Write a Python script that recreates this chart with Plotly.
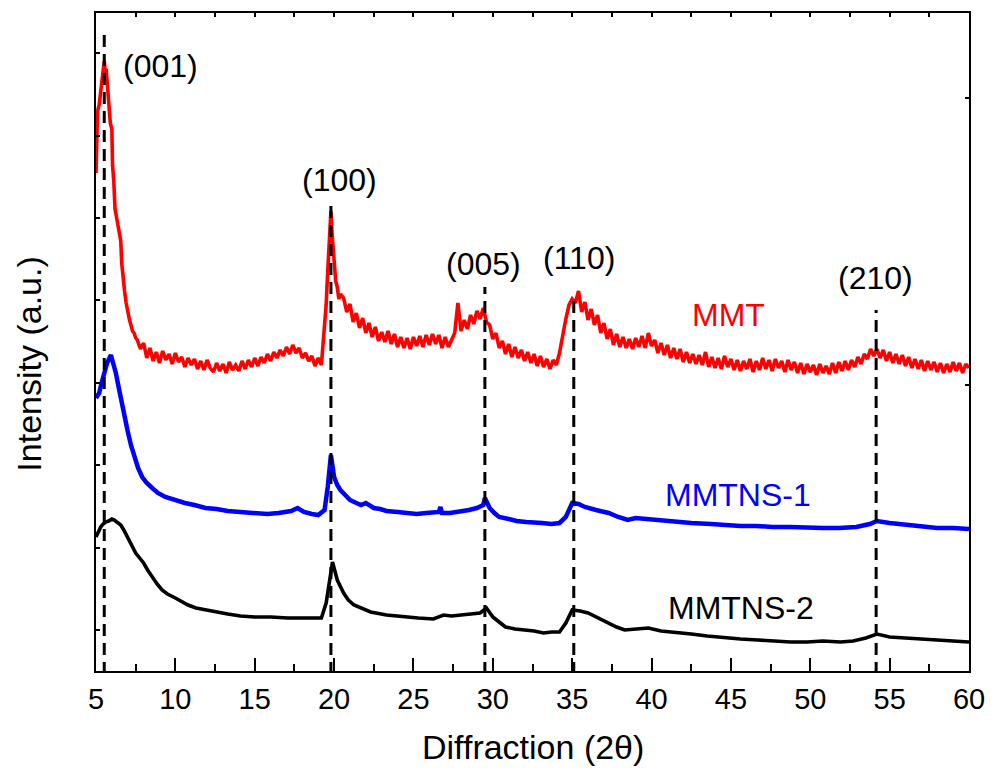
import numpy as np
import plotly.graph_objects as go

# ---------------- data (intensity in a.u.) ----------------
# MMT (red) – fine sampling around the (001) peak
mmt_x_a = [5.00, 5.04, 5.10, 5.20, 5.28, 5.37, 5.45, 5.52, 5.58, 5.64, 5.70, 5.76, 5.83,
           5.90, 6.00, 6.04, 6.12, 6.20, 6.28, 6.36, 6.45, 6.56, 6.62, 6.70, 6.80, 6.90,
           7.00, 7.10, 7.20, 7.30, 7.40, 7.50]
mmt_y_a = [498, 551, 560, 566, 578, 594, 604, 610, 600, 602, 590, 578, 554,
           548, 542, 506, 490, 462, 455, 447, 438, 430, 408, 392, 380, 368,
           358, 352, 346, 340, 338, 333]
# MMT, 0.2-step readings from 7.6 to 19.2
mmt_start_b = 7.6
mmt_y_b = [331, 322, 328, 313, 323, 310, 319, 308, 320, 311,
           317, 307, 318, 309, 314, 304, 313, 306, 312, 302,
           310, 301, 311, 303, 299, 308, 300, 307, 298, 309,
           301, 306, 300, 310, 302, 311, 304, 313, 305, 314,
           308, 317, 310, 319, 313, 321, 315, 324, 317, 326,
           318, 323, 313, 318, 310, 315, 305, 313, 306]
# MMT, fine sampling around the (100) peak
mmt_x_c = [19.30, 19.40, 19.50, 19.60, 19.70, 19.76, 19.80, 19.86, 19.92, 20.00,
           20.10, 20.20, 20.30, 20.40]
mmt_y_c = [326, 345, 366, 400, 432, 455, 460, 440, 428, 405,
           390, 384, 372, 377]
# MMT, 0.2-step readings from 20.6 to 60.0
mmt_start_d = 20.6
mmt_y_d = [373, 359, 367, 349, 358, 343, 353, 338, 348, 334,
           344, 330, 339, 329, 340, 327, 337, 324, 334, 323,
           333, 322, 334, 325, 335, 324, 336, 326, 337, 327,
           336, 323, 334, 324, 332, 338, 368, 340, 351, 342,
           356, 347, 360, 352, 363, 349, 346, 332, 338, 323,
           330, 317, 327, 314, 324, 313, 321, 310, 319, 308,
           317, 305, 315, 304, 312, 302, 311, 306, 318, 336,
           352, 366, 372, 368, 380, 359, 369, 351, 362, 346,
           356, 338, 348, 332, 342, 326, 337, 324, 334, 323,
           332, 322, 333, 324, 335, 323, 338, 325, 331, 318,
           328, 316, 326, 313, 323, 312, 322, 309, 319, 308,
           317, 307, 316, 306, 319, 304, 314, 303, 313, 302,
           315, 304, 312, 301, 311, 300, 310, 302, 312, 299,
           310, 301, 313, 302, 311, 300, 312, 303, 310, 299,
           311, 301, 309, 298, 308, 297, 307, 299, 306, 296,
           307, 298, 305, 297, 308, 298, 309, 300, 310, 301,
           311, 304, 314, 307, 317, 312, 322, 315, 322, 313,
           321, 310, 319, 308, 317, 307, 316, 305, 314, 303,
           312, 302, 311, 300, 310, 301, 309, 299, 308, 298,
           307, 299, 309, 300, 308, 298, 307, 303]
mmt_step = 0.2

# MMTNS-1 (blue)
ns1_x = [5.0, 5.2, 5.35, 5.52, 5.7, 5.94, 6.1, 6.25, 6.45, 6.66, 6.98, 7.2, 7.4, 7.65,
         7.91, 8.2, 8.54, 8.9, 9.37, 9.9, 10.6, 11.2, 11.9, 12.6, 13.3, 14.1, 15.0, 15.8,
         16.5, 17.3, 17.7, 18.1, 18.6, 19.0, 19.4, 19.6, 19.8, 20.0, 20.2, 20.4, 20.7,
         21.0, 21.4, 21.7, 22.0, 22.5, 22.9, 23.3, 24.0, 24.6, 25.2, 25.8, 26.6, 26.7,
         26.8, 27.3, 27.9, 28.5, 29.0, 29.4, 29.5, 29.8, 30.1, 30.4, 31.0, 31.5, 32.1,
         32.6, 33.1, 33.7, 34.2, 34.6, 35.0, 35.4, 35.8, 36.5, 37.3, 37.9, 38.5, 39.0,
         39.6, 40.5, 41.45, 42.5, 43.75, 44.6, 45.6, 46.6, 47.6, 48.75, 49.8, 50.8, 51.8,
         52.9, 53.75, 54.2, 55.0, 56.0, 57.1, 58.0, 59.0, 60.0]
ns1_y = [273, 278, 288, 298, 308, 316, 308, 298, 282, 264, 241, 226, 214, 203,
         194, 188, 183, 178, 174, 171, 168, 166, 163, 162, 160, 159, 158, 157,
         158, 160, 163, 159, 157, 156, 161, 184, 216, 194, 186, 181, 176,
         171, 168, 166, 168, 163, 162, 160, 159, 158, 157, 158, 159, 164,
         158, 158, 159, 161, 163, 166, 173, 163, 158, 154, 152, 150, 149,
         149, 148, 147, 148, 154, 168, 167, 164, 161, 158, 154, 151, 153,
         152, 151, 149, 148, 147, 146, 145, 145, 144, 144, 143, 143, 143,
         144, 147, 150, 148, 146, 144, 143, 143, 142]

# MMTNS-2 (black)
ns2_x = [5.0, 5.15, 5.3, 5.45, 5.6, 5.8, 6.0, 6.15, 6.35, 6.56, 6.75, 6.98, 7.2, 7.5,
         7.75, 8.0, 8.25, 8.54, 8.85, 9.16, 9.5, 10.0, 10.4, 10.8, 11.3, 11.9, 12.5,
         13.3, 14.1, 15.0, 16.0, 17.1, 18.2, 19.2, 19.5, 19.7, 19.9, 20.05, 20.2, 20.6,
         20.9, 21.25, 21.8, 22.3, 23.3, 24.4, 25.3, 26.25, 26.9, 27.4, 27.9, 28.6, 29.2,
         29.6, 30.0, 30.4, 30.8, 31.4, 32.1, 32.6, 33.2, 33.7, 34.2, 34.6, 35.0, 35.5,
         36.0, 36.6, 37.3, 37.8, 38.3, 39.0, 39.8, 40.6, 41.45, 42.5, 43.5, 44.6, 45.6,
         46.7, 47.7, 48.75, 49.8, 50.8, 51.9, 52.7, 53.5, 54.2, 55.0, 56.0, 57.1, 58.0,
         59.0, 60.0]
ns2_y = [134, 140, 144, 147, 149, 150, 152, 151, 149, 146, 141, 134, 127, 118,
         113, 108, 101, 94, 87, 81, 77, 73, 69, 66, 63, 61, 59,
         57, 55, 54, 54, 53, 53, 53, 68, 90, 109, 100, 91, 78,
         71, 66, 62, 59, 56, 54, 53, 52, 56, 55, 56, 57, 58,
         63, 54, 49, 44, 42, 41, 40, 38, 39, 39, 48, 61, 60,
         58, 53, 48, 44, 41, 42, 43, 40, 39, 37, 35, 33, 32,
         31, 30, 29, 29, 30, 29, 30, 33, 37, 34, 33, 32, 31,
         30, 29]

series_names = ["MMT", "MMTNS-1", "MMTNS-2"]
series_colors = ["#FF0000", "#0000FF", "#000000"]

# reflection markers: position (2θ), label and top of the dashed guide
peak_pos = [5.52, 19.8, 29.5, 35.1, 54.15]
peak_top = [638, 469, 384, 371, 361]
peak_labels = ["(001)", "(100)", "(005)", "(110)", "(210)"]
peak_label_x = [9.05, 20.31, 29.44, 35.43, 54.11]
peak_label_y = [605, 491, 407, 413, 393]

series_label_x = [44.82, 45.47, 45.66]
series_label_y = [356, 176, 63]

x_ticks = [5, 10, 15, 20, 25, 30, 35, 40, 45, 50, 55, 60]
y_tickvals = [41, 123.4, 205.8, 288.2, 370.6, 453, 535.4, 617.8]
y2_tickvals = [286, 573]

# ---------------- build ----------------
mmt_x = (list(mmt_x_a)
         + [round(mmt_start_b + mmt_step * i, 2) for i in range(len(mmt_y_b))]
         + list(mmt_x_c)
         + [round(mmt_start_d + mmt_step * i, 2) for i in range(len(mmt_y_d))])
mmt_y = list(mmt_y_a) + list(mmt_y_b) + list(mmt_y_c) + list(mmt_y_d)

FONT = "Arial, 'Liberation Sans', Helvetica, sans-serif"

fig = go.Figure()
fig.add_trace(go.Scatter(x=mmt_x, y=mmt_y, mode="lines", name=series_names[0],
                         line=dict(color=series_colors[0], width=3.6)))
fig.add_trace(go.Scatter(x=ns1_x, y=ns1_y, mode="lines", name=series_names[1],
                         line=dict(color=series_colors[1], width=4.5)))
fig.add_trace(go.Scatter(x=ns2_x, y=ns2_y, mode="lines", name=series_names[2],
                         line=dict(color=series_colors[2], width=3.6)))
# dummy trace to activate mirror axes
fig.add_trace(go.Scatter(x=[x_ticks[0], x_ticks[-1]], y=[0, 0], xaxis="x2", yaxis="y2",
                         mode="lines", line=dict(width=0), hoverinfo="skip",
                         showlegend=False))

for xp, yt in zip(peak_pos, peak_top):
    fig.add_shape(type="line", xref="x", yref="y", x0=xp, x1=xp, y0=-3, y1=yt,
                  line=dict(color="black", width=3, dash="12px,7px"), layer="above")

for t, xl, yl in zip(peak_labels, peak_label_x, peak_label_y):
    fig.add_annotation(x=xl, y=yl, xref="x", yref="y", text=t, showarrow=False,
                       font=dict(family=FONT, size=32, color="black"),
                       xanchor="center", yanchor="middle")

for t, c, xl, yl in zip(series_names, series_colors, series_label_x, series_label_y):
    fig.add_annotation(x=xl, y=yl, xref="x", yref="y", text=t, showarrow=False,
                       font=dict(family=FONT, size=32, color=c),
                       xanchor="center", yanchor="middle")

# axis titles
fig.add_annotation(x=0.5, y=-0.1155, xref="paper", yref="paper", text="Diffraction (2θ)",
                   showarrow=False, font=dict(family=FONT, size=34, color="black"),
                   xanchor="center", yanchor="middle")
fig.add_annotation(x=-0.0771, y=0.4666, xref="paper", yref="paper", text="Intensity (a.u.)",
                   showarrow=False, textangle=-90,
                   font=dict(family=FONT, size=34, color="black"),
                   xanchor="center", yanchor="middle")

fig.update_layout(
    width=997, height=770,
    margin=dict(l=96, r=19, t=13, b=99),
    paper_bgcolor="white", plot_bgcolor="white",
    showlegend=False,
    font=dict(family=FONT, size=29, color="black"),
    xaxis=dict(range=[5, 60], tickvals=x_ticks, ticks="inside", ticklen=13, tickwidth=1.5,
               tickcolor="black", showline=True, linecolor="black", linewidth=2,
               showgrid=False, zeroline=False, ticklabelstandoff=1,
               minor=dict(dtick=2.5, tick0=5, ticks="inside", ticklen=7, tickwidth=1.5,
                          tickcolor="black", showgrid=False),
               tickfont=dict(size=29)),
    xaxis2=dict(range=[5, 60], overlaying="x", side="top", dtick=2.5, tick0=5,
                ticks="inside", ticklen=4, tickwidth=1.5, tickcolor="black",
                showline=True, linecolor="black", linewidth=2, showgrid=False,
                zeroline=False, showticklabels=False),
    yaxis=dict(range=[0, 658], tickvals=y_tickvals, ticks="inside", ticklen=4,
               tickwidth=1.5, tickcolor="black", showline=True, linecolor="black",
               linewidth=2, showgrid=False, zeroline=False, showticklabels=False),
    yaxis2=dict(range=[0, 658], overlaying="y", side="right", tickvals=y2_tickvals,
                ticks="inside", ticklen=4, tickwidth=1.5, tickcolor="black",
                showline=True, linecolor="black", linewidth=2, showgrid=False,
                zeroline=False, showticklabels=False),
)

fig.write_html("out.html")
